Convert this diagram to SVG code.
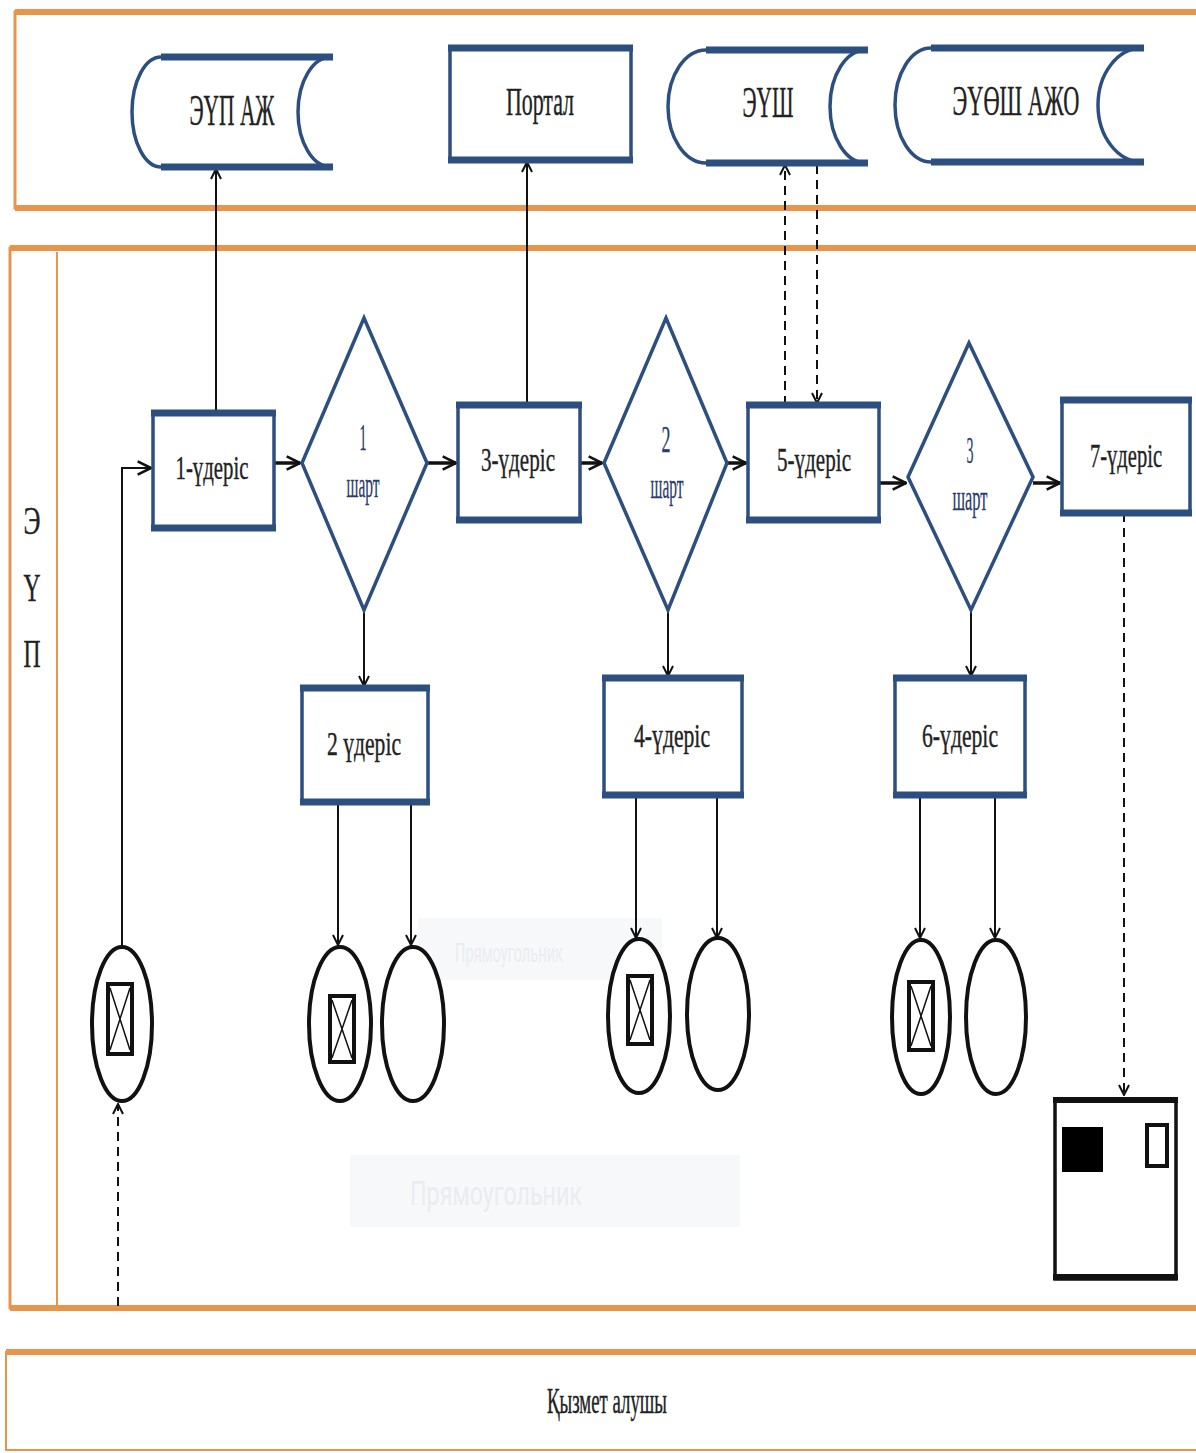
<svg xmlns="http://www.w3.org/2000/svg" width="1196" height="1453" viewBox="0 0 1196 1453">
<style>
.lane{fill:none;stroke:#E8954C}
.nb{fill:#fff;stroke:#2C4F80;stroke-width:3.5}
.nbt{stroke:#2C4F80;stroke-width:7}
.t{font-family:"Liberation Serif","DejaVu Serif",serif;fill:#222;text-anchor:middle;stroke:#222;stroke-width:0.4}
.dt{font-family:"Liberation Serif","DejaVu Serif",serif;fill:#2A3A6A;text-anchor:middle;stroke:#2A3A6A;stroke-width:0.3}
.c{fill:none;stroke:#111;stroke-width:2}
.cm{fill:none;stroke:#111;stroke-width:3.5}
.d{fill:none;stroke:#111;stroke-width:2;stroke-dasharray:9,6}
.ev{fill:#fff;stroke:#111;stroke-width:4}
.ghost{font-family:"Roboto","Liberation Sans",sans-serif;fill:#e2e5ea}
</style>
<defs>
<marker id="a" viewBox="0 0 12 12" refX="11" refY="6" markerWidth="12" markerHeight="12" markerUnits="userSpaceOnUse" orient="auto">
<path d="M1,1 L11,6 L1,11" fill="none" stroke="#111" stroke-width="2"/>
</marker>
<marker id="am" viewBox="0 0 12 12" refX="11" refY="6" markerWidth="16" markerHeight="16" markerUnits="userSpaceOnUse" orient="auto">
<path d="M1,1 L11,6 L1,11" fill="none" stroke="#111" stroke-width="2"/>
</marker>
</defs>
<rect width="1196" height="1453" fill="#fff"/>

<g id="lanes">
<path class="lane" d="M1200,12 L15,12 L15,208 L1200,208" stroke-width="3"/>
<line class="lane" x1="15" y1="12" x2="1200" y2="12" stroke-width="6"/>
<line class="lane" x1="15" y1="208" x2="1200" y2="208" stroke-width="6"/>
<path class="lane" d="M1200,248 L10,248 L10,1308 L1200,1308" stroke-width="3"/>
<line class="lane" x1="10" y1="248" x2="1200" y2="248" stroke-width="6"/>
<line class="lane" x1="10" y1="1308" x2="1200" y2="1308" stroke-width="6"/>
<line class="lane" x1="57" y1="252" x2="57" y2="1305" stroke-width="2"/>
<path class="lane" d="M1200,1352 L6,1352 L6,1450 L1200,1450" stroke-width="2"/>
<line class="lane" x1="6" y1="1352" x2="1200" y2="1352" stroke-width="6"/>
<text class="t" x="32" y="534" font-size="40" textLength="17" lengthAdjust="spacingAndGlyphs">Э</text>
<text class="t" x="32" y="601" font-size="40" textLength="17" lengthAdjust="spacingAndGlyphs">Ү</text>
<text class="t" x="32" y="667" font-size="40" textLength="17" lengthAdjust="spacingAndGlyphs">П</text>
<text class="t" x="607" y="1413" font-size="36" textLength="120" lengthAdjust="spacingAndGlyphs">Қызмет алушы</text>
</g>

<g id="ghosts" opacity="0.7">
<rect x="418" y="918" width="244" height="62" fill="#f5f6f9"/>
<text class="ghost" x="455" y="962" font-size="26" textLength="108" lengthAdjust="spacingAndGlyphs">Прямоугольник</text>
<rect x="350" y="1155" width="390" height="72" fill="#f5f6f9"/>
<text class="ghost" x="410" y="1205" font-size="34" textLength="172" lengthAdjust="spacingAndGlyphs">Прямоугольник</text>
</g>

<g id="connectors">
<line class="c" x1="216" y1="413" x2="216" y2="169" marker-end="url(#a)"/>
<line class="c" x1="527" y1="405" x2="527" y2="162" marker-end="url(#a)"/>
<line class="d" x1="785" y1="405" x2="785" y2="165" marker-end="url(#a)"/>
<line class="d" x1="817" y1="165" x2="817" y2="403" marker-end="url(#a)"/>
<polyline class="c" points="122,947 122,468 151,468" marker-end="url(#am)"/>
<line class="cm" x1="274" y1="463" x2="300" y2="463" marker-end="url(#am)"/>
<line class="cm" x1="427" y1="463" x2="456" y2="463" marker-end="url(#am)"/>
<line class="cm" x1="580" y1="463" x2="602" y2="463" marker-end="url(#am)"/>
<line class="cm" x1="727" y1="463" x2="746" y2="463" marker-end="url(#am)"/>
<line class="cm" x1="879" y1="483" x2="906" y2="483" marker-end="url(#am)"/>
<line class="cm" x1="1033" y1="483" x2="1060" y2="483" marker-end="url(#am)"/>
<line class="c" x1="364" y1="610" x2="364" y2="686" marker-end="url(#a)"/>
<line class="c" x1="668" y1="610" x2="668" y2="676" marker-end="url(#a)"/>
<line class="c" x1="971" y1="610" x2="971" y2="676" marker-end="url(#a)"/>
<line class="c" x1="338" y1="802" x2="338" y2="945" marker-end="url(#a)"/>
<line class="c" x1="411" y1="802" x2="411" y2="945" marker-end="url(#a)"/>
<line class="c" x1="636" y1="795" x2="636" y2="938" marker-end="url(#a)"/>
<line class="c" x1="717" y1="795" x2="717" y2="938" marker-end="url(#a)"/>
<line class="c" x1="920" y1="795" x2="920" y2="938" marker-end="url(#a)"/>
<line class="c" x1="995" y1="795" x2="995" y2="938" marker-end="url(#a)"/>
<line class="d" x1="1124" y1="513" x2="1124" y2="1095" marker-end="url(#a)"/>
<line class="d" x1="118" y1="1306" x2="118" y2="1104" marker-end="url(#a)"/>
</g>

<g id="eup-azh">
<path class="nb" d="M331,57 L161,57 A29 55 0 0 0 161,167 L331,167 A33 55 0 0 1 331,57"/>
<line class="nbt" x1="161" y1="57" x2="333" y2="57"/><line class="nbt" x1="161" y1="167" x2="333" y2="167"/>
<text class="t" x="232" y="125" font-size="44" textLength="85" lengthAdjust="spacingAndGlyphs">ЭҮП АЖ</text>
</g>
<g id="portal">
<rect class="nb" x="450" y="48" width="181" height="112"/>
<line class="nbt" x1="448" y1="48" x2="633" y2="48"/><line class="nbt" x1="448" y1="160" x2="633" y2="160"/>
<text class="t" x="540" y="115" font-size="40" textLength="68" lengthAdjust="spacingAndGlyphs">Портал</text>
</g>
<g id="eush">
<path class="nb" d="M866,50 L706,50 A38 56.5 0 0 0 706,163 L866,163 A36 56.5 0 0 1 866,50"/>
<line class="nbt" x1="706" y1="50" x2="868" y2="50"/><line class="nbt" x1="706" y1="163" x2="868" y2="163"/>
<text class="t" x="768" y="117" font-size="44" textLength="51" lengthAdjust="spacingAndGlyphs">ЭҮШ</text>
</g>
<g id="euosh-azho">
<path class="nb" d="M1142,48 L931,48 A36 57 0 0 0 931,162 L1142,162 A44 57 0 0 1 1142,48"/>
<line class="nbt" x1="931" y1="48" x2="1144" y2="48"/><line class="nbt" x1="931" y1="162" x2="1144" y2="162"/>
<text class="t" x="1016" y="115" font-size="42" textLength="127" lengthAdjust="spacingAndGlyphs">ЭҮӨШ АЖО</text>
</g>

<g id="p1">
<rect class="nb" x="153" y="413" width="121" height="115"/>
<line class="nbt" x1="151" y1="413" x2="276" y2="413"/><line class="nbt" x1="151" y1="528" x2="276" y2="528"/>
<text class="t" x="212" y="479" font-size="34" textLength="73" lengthAdjust="spacingAndGlyphs">1-үдеріс</text>
</g>
<g id="d1">
<polygon class="nb" points="364,318 427,463 364,610 302,463" stroke-width="3"/>
<text class="dt" x="363" y="450" font-size="38" textLength="7" lengthAdjust="spacingAndGlyphs">1</text>
<text class="dt" x="363" y="497" font-size="36" textLength="33" lengthAdjust="spacingAndGlyphs">шарт</text>
</g>
<g id="p3">
<rect class="nb" x="458" y="405" width="122" height="115"/>
<line class="nbt" x1="456" y1="405" x2="582" y2="405"/><line class="nbt" x1="456" y1="520" x2="582" y2="520"/>
<text class="t" x="518" y="471" font-size="34" textLength="74" lengthAdjust="spacingAndGlyphs">3-үдеріс</text>
</g>
<g id="d2">
<polygon class="nb" points="666,318 727,463 668,610 604,463" stroke-width="3"/>
<text class="dt" x="666" y="452" font-size="38" textLength="9" lengthAdjust="spacingAndGlyphs">2</text>
<text class="dt" x="667" y="498" font-size="36" textLength="33" lengthAdjust="spacingAndGlyphs">шарт</text>
</g>
<g id="p5">
<rect class="nb" x="748" y="405" width="131" height="115"/>
<line class="nbt" x1="746" y1="405" x2="881" y2="405"/><line class="nbt" x1="746" y1="520" x2="881" y2="520"/>
<text class="t" x="814" y="471" font-size="34" textLength="74" lengthAdjust="spacingAndGlyphs">5-үдеріс</text>
</g>
<g id="d3">
<polygon class="nb" points="969,343 1033,477 971,610 908,477" stroke-width="3"/>
<text class="dt" x="970" y="463" font-size="38" textLength="7" lengthAdjust="spacingAndGlyphs">3</text>
<text class="dt" x="970" y="510" font-size="36" textLength="35" lengthAdjust="spacingAndGlyphs">шарт</text>
</g>
<g id="p7">
<rect class="nb" x="1062" y="400" width="128" height="113"/>
<line class="nbt" x1="1060" y1="400" x2="1192" y2="400"/><line class="nbt" x1="1060" y1="513" x2="1192" y2="513"/>
<text class="t" x="1126" y="467" font-size="34" textLength="72" lengthAdjust="spacingAndGlyphs">7-үдеріс</text>
</g>
<g id="p2">
<rect class="nb" x="302" y="688" width="126" height="114"/>
<line class="nbt" x1="300" y1="688" x2="430" y2="688"/><line class="nbt" x1="300" y1="802" x2="430" y2="802"/>
<text class="t" x="364" y="755" font-size="34" textLength="74" lengthAdjust="spacingAndGlyphs">2 үдеріс</text>
</g>
<g id="p4">
<rect class="nb" x="604" y="678" width="138" height="117"/>
<line class="nbt" x1="602" y1="678" x2="744" y2="678"/><line class="nbt" x1="602" y1="795" x2="744" y2="795"/>
<text class="t" x="672" y="747" font-size="34" textLength="76" lengthAdjust="spacingAndGlyphs">4-үдеріс</text>
</g>
<g id="p6">
<rect class="nb" x="895" y="678" width="130" height="117"/>
<line class="nbt" x1="893" y1="678" x2="1027" y2="678"/><line class="nbt" x1="893" y1="795" x2="1027" y2="795"/>
<text class="t" x="960" y="747" font-size="34" textLength="76" lengthAdjust="spacingAndGlyphs">6-үдеріс</text>
</g>

<g id="start">
<ellipse class="ev" cx="122" cy="1024" rx="30" ry="77"/>
<rect x="108" y="984" width="24" height="70" fill="none" stroke="#111" stroke-width="4"/>
<path d="M110,988 L130,1050 M130,988 L110,1050" stroke="#111" stroke-width="1.5"/>
</g>
<g id="e2a">
<ellipse class="ev" cx="340" cy="1024" rx="31" ry="77"/>
<rect x="330" y="996" width="24" height="66" fill="none" stroke="#111" stroke-width="4"/>
<path d="M332,1000 L352,1058 M352,1000 L332,1058" stroke="#111" stroke-width="1.5"/>
</g>
<g id="e2b"><ellipse class="ev" cx="413" cy="1024" rx="31" ry="77"/></g>
<g id="e4a">
<ellipse class="ev" cx="639" cy="1016" rx="31" ry="77"/>
<rect x="628" y="976" width="24" height="68" fill="none" stroke="#111" stroke-width="4"/>
<path d="M630,980 L650,1040 M650,980 L630,1040" stroke="#111" stroke-width="1.5"/>
</g>
<g id="e4b"><ellipse class="ev" cx="718" cy="1014" rx="31" ry="76"/></g>
<g id="e6a">
<ellipse class="ev" cx="921" cy="1017" rx="29" ry="77"/>
<rect x="909" y="982" width="24" height="68" fill="none" stroke="#111" stroke-width="4"/>
<path d="M911,986 L931,1046 M931,986 L911,1046" stroke="#111" stroke-width="1.5"/>
</g>
<g id="e6b"><ellipse class="ev" cx="996" cy="1017" rx="30" ry="77"/></g>

<g id="doc">
<rect x="1055" y="1099" width="121" height="180" fill="#fff" stroke="#111" stroke-width="3.5"/>
<line x1="1053" y1="1100" x2="1178" y2="1100" stroke="#111" stroke-width="6"/>
<line x1="1053" y1="1277" x2="1178" y2="1277" stroke="#111" stroke-width="6"/>
<rect x="1062" y="1127" width="41" height="45" fill="#000"/>
<rect x="1147" y="1125" width="20" height="41" fill="#fff" stroke="#111" stroke-width="4"/>
</g>
</svg>
